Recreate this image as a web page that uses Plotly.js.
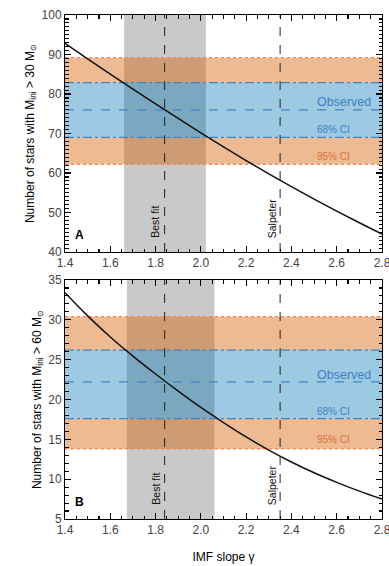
<!DOCTYPE html>
<html>
<head>
<meta charset="utf-8">
<script src="https://cdn.plot.ly/plotly-3.0.1.min.js"></script>
<style>
html,body{margin:0;padding:0;background:#fff;}
#wrap{position:relative;width:389px;height:566px;overflow:hidden;}
#panelA{position:absolute;left:0;top:0;width:389px;height:280px;}
#panelB{position:absolute;left:0;top:270px;width:389px;height:296px;}
</style>
</head>
<body>
<div id="wrap"><div id="panelA"></div><div id="panelB"></div></div>
<script>
// ---- data ----
var gammaA = [1.4, 1.5, 1.6, 1.7, 1.8, 1.9, 2.0, 2.1, 2.2, 2.3, 2.4, 2.5, 2.6, 2.7, 2.8];
var nStarsA = [92.8, 88.9, 85.05, 81.25, 77.5, 73.8, 70.15, 66.6, 63.15, 59.8, 56.55, 53.4, 50.35, 47.4, 44.55];
var gammaB = [1.4, 1.5, 1.6, 1.7, 1.8, 1.9, 2.0, 2.1, 2.2, 2.3, 2.4, 2.5, 2.6, 2.7, 2.8];
var nStarsB = [33.4, 30.5, 27.85, 25.45, 23.2, 21.05, 19.0, 17.1, 15.3, 13.65, 12.15, 10.8, 9.6, 8.5, 7.5];

// observed value, 68% CI and 95% CI for panels A and B
var observedA = 76.0, ci68A = [69.0, 82.9], ci95A = [62.2, 89.2];
var observedB = 22.2, ci68B = [17.6, 26.2], ci95B = [13.8, 30.4];
// best-fit slope range and reference slopes
var bestFitRangeA = [1.661, 2.022];
var bestFitRangeB = [1.673, 2.06];
var bestFit = 1.84, salpeter = 2.35;
var xRange = [1.4, 2.8], xTickStep = 0.2, xMinorStep = 0.05;
var yRangeA = [40, 100], yTickStepA = 10;
var yRangeB = [5, 35], yTickStepB = 5;

// ---- styling ----
var FONT = '"Liberation Sans", Arial, Helvetica, sans-serif';
var ORANGE_FILL = 'rgba(213,94,0,0.43)';
var BLUE_FILL = 'rgba(0,114,178,0.38)';
var GRAY_FILL = '#c9c9c9';
var BLUE_LINE = '#3d86c6';
var ORANGE_LINE = '#ea8a5c';
var BLUE_TEXT = '#3a82c4';
var ORANGE_TEXT = '#e0703a';

function panelShapes(range, ci68, ci95, obs) {
  var s = [];
  s.push({type:'rect', layer:'below', xref:'x', yref:'y domain', x0:range[0], x1:range[1], y0:0, y1:1, fillcolor:GRAY_FILL, line:{width:0}});
  s.push({type:'rect', layer:'below', xref:'x domain', yref:'y', x0:0, x1:1, y0:ci95[0], y1:ci68[0], fillcolor:ORANGE_FILL, line:{width:0}});
  s.push({type:'rect', layer:'below', xref:'x domain', yref:'y', x0:0, x1:1, y0:ci68[1], y1:ci95[1], fillcolor:ORANGE_FILL, line:{width:0}});
  s.push({type:'rect', layer:'below', xref:'x domain', yref:'y', x0:0, x1:1, y0:ci68[0], y1:ci68[1], fillcolor:BLUE_FILL, line:{width:0}});
  [ci95[0], ci95[1]].forEach(function(v){
    s.push({type:'line', layer:'below', xref:'x domain', yref:'y', x0:0, x1:1, y0:v, y1:v, line:{color:ORANGE_LINE, width:1.2, dash:'dot'}});
  });
  [ci68[0], ci68[1]].forEach(function(v){
    s.push({type:'line', layer:'below', xref:'x domain', yref:'y', x0:0, x1:1, y0:v, y1:v, line:{color:BLUE_LINE, width:1.2, dash:'dashdot'}});
  });
  s.push({type:'line', layer:'below', xref:'x domain', yref:'y', x0:0, x1:1, y0:obs, y1:obs, line:{color:BLUE_LINE, width:1.2, dash:'dash'}});
  [bestFit, salpeter].forEach(function(v){
    s.push({type:'line', layer:'below', xref:'x', yref:'y domain', x0:v, x1:v, y0:0, y1:1, line:{color:'#222', width:1, dash:'dash'}});
  });
  return s;
}

function panelAnnots(letter, yObs, y68, y95) {
  return [
    {xref:'x', yref:'y', x:2.505, y:yObs, xanchor:'left', yanchor:'middle', text:'Observed', showarrow:false, font:{family:FONT, size:12.5, color:BLUE_TEXT}},
    {xref:'x', yref:'y', x:2.505, y:y68, xanchor:'left', yanchor:'middle', text:'68% CI', showarrow:false, font:{family:FONT, size:10, color:BLUE_TEXT}},
    {xref:'x', yref:'y', x:2.505, y:y95, xanchor:'left', yanchor:'middle', text:'95% CI', showarrow:false, font:{family:FONT, size:10, color:ORANGE_TEXT}},
    {xref:'x', yref:'y domain', x:bestFit, y:0.05, xanchor:'center', yanchor:'bottom', xshift:-9, textangle:-90, text:'Best fit', showarrow:false, font:{family:FONT, size:10.5, color:'#111'}},
    {xref:'x', yref:'y domain', x:salpeter, y:0.05, xanchor:'center', yanchor:'bottom', xshift:-8, textangle:-90, text:'Salpeter', showarrow:false, font:{family:FONT, size:10.5, color:'#111'}},
    {xref:'x domain', yref:'y domain', x:0.046, y:0.072, xanchor:'center', yanchor:'middle', text:'<b>' + letter + '</b>', showarrow:false, font:{family:FONT, size:12, color:'#000'}}
  ];
}

function xAxis(showTitle) {
  var ax = {
    range:xRange, tick0:xRange[0], dtick:xTickStep, tickformat:'.1f',
    ticks:'inside', ticklen:6, tickwidth:1.2, tickcolor:'#000', mirror:'ticks',
    showline:true, linecolor:'#000', linewidth:1, showgrid:false, zeroline:false,
    ticklabeloverflow:'allow',
    minor:{dtick:xMinorStep, ticks:'inside', ticklen:3.5, tickwidth:1.1, tickcolor:'#000'},
    tickfont:{family:FONT, size:12}
  };
  if (showTitle) ax.title = {text:'IMF slope γ', font:{family:FONT, size:12, color:'#000'}, standoff:16};
  return ax;
}
function yAxis(range, step, title) {
  return {
    range: range, tick0:range[0], dtick:step,
    ticks:'inside', ticklen:6, tickwidth:1.2, tickcolor:'#000', mirror:'ticks',
    showline:true, linecolor:'#000', linewidth:1, showgrid:false, zeroline:false,
    minor:{dtick:1, ticks:'inside', ticklen:3.5, tickwidth:1.1, tickcolor:'#000'},
    tickfont:{family:FONT, size:12},
    title:{text:title, font:{family:FONT, size:12, color:'#000'}, standoff:4}
  };
}

var layoutA = {
  width:389, height:280,
  margin:{l:65, r:7, t:15, b:28},
  paper_bgcolor:'rgba(0,0,0,0)',
  showlegend:false,
  xaxis: xAxis(false),
  yaxis: yAxis(yRangeA, yTickStepA, 'Number of stars with M<sub>ini</sub> > 30 M<sub>⊙</sub>'),
  shapes: panelShapes(bestFitRangeA, ci68A, ci95A, observedA),
  annotations: panelAnnots('A', 78.0, 71.0, 64.3)
};
var layoutB = {
  width:389, height:296,
  margin:{l:65, r:7, t:10, b:47},
  paper_bgcolor:'rgba(0,0,0,0)',
  showlegend:false,
  xaxis: xAxis(true),
  yaxis: yAxis(yRangeB, yTickStepB, 'Number of stars with M<sub>ini</sub> > 60 M<sub>⊙</sub>'),
  shapes: panelShapes(bestFitRangeB, ci68B, ci95B, observedB),
  annotations: panelAnnots('B', 23.1, 18.5, 15.0)
};

Plotly.newPlot('panelA', [{x:gammaA, y:nStarsA, mode:'lines', line:{color:'#111', width:1.5, shape:'spline'}}], layoutA, {staticPlot:true});
Plotly.newPlot('panelB', [{x:gammaB, y:nStarsB, mode:'lines', line:{color:'#111', width:1.5, shape:'spline'}}], layoutB, {staticPlot:true});
</script>
</body>
</html>
